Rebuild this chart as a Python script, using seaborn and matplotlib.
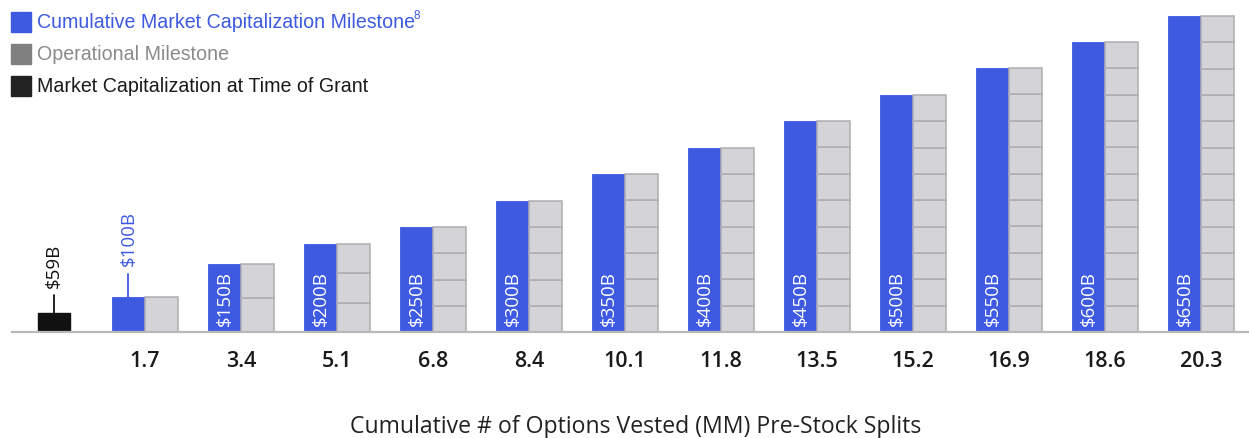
import matplotlib
matplotlib.use("Agg")
import matplotlib.pyplot as plt
from matplotlib.patches import Rectangle
import seaborn as sns
import pandas as pd
import numpy as np

# ---- data ----
milestone_labels = ["$100B", "$150B", "$200B", "$250B", "$300B", "$350B",
                    "$400B", "$450B", "$500B", "$550B", "$600B", "$650B"]
# displayed (schematic) bar heights as drawn in the reference
bar_heights = [35, 68, 88, 105, 131, 158, 184, 211, 237, 264, 290, 316]
operational_segments = [1, 2, 3, 4, 5, 6, 7, 8, 9, 10, 11, 12]
options_vested = ["1.7", "3.4", "5.1", "6.8", "8.4", "10.1",
                  "11.8", "13.5", "15.2", "16.9", "18.6", "20.3"]
grant_label = "$59B"
grant_height = 19

legend_labels = ["Cumulative Market Capitalization Milestone",
                 "Operational Milestone",
                 "Market Capitalization at Time of Grant"]
xlabel = "Cumulative # of Options Vested (MM) Pre-Stock Splits"

BLUE = "#3d5ae0"
GRAY_FILL = "#d4d3d8"
GRAY_EDGE = "#aeadb2"
BLACK = "#111111"

sns.set_theme(style="white")
plt.rcParams["font.family"] = ["Open Sans", "DejaVu Sans"]

W, H = 1249, 438
fig = plt.figure(figsize=(W / 100, H / 100), dpi=100)
base_px = 332
left_px = 12
ax = fig.add_axes([left_px / W, (H - base_px) / H, (W - left_px) / W, base_px / H])

BW = 0.344
x = np.arange(len(bar_heights))

df = pd.DataFrame({"x": x - BW / 2, "h": bar_heights})
sns.barplot(data=df, x="x", y="h", native_scale=True, width=BW,
            color=BLUE, saturation=1, edgecolor=BLUE, linewidth=0.6, ax=ax)

# operational milestone stacked segments
for i, (h, n) in enumerate(zip(bar_heights, operational_segments)):
    seg = h / n
    ax.bar([i + BW / 2] * n, [seg] * n, bottom=np.arange(n) * seg, width=BW,
           color=GRAY_FILL, edgecolor=GRAY_EDGE, linewidth=1.1, zorder=2)

# grant bar
gx = -0.948
ax.bar([gx], [grant_height], width=0.33, color=BLACK, edgecolor=BLACK, zorder=2)
ax.plot([gx, gx], [grant_height, 37], color=BLACK, lw=1.3)
ax.text(gx, 44, grant_label, rotation=90, ha="center", va="bottom",
        color=BLACK, fontsize=13.5)

# value labels
for i, (h, lab) in enumerate(zip(bar_heights, milestone_labels)):
    cx = i - BW / 2
    if i == 0:
        ax.plot([cx, cx], [h, 58], color=BLUE, lw=1.3)
        ax.text(cx, 66, lab, rotation=90, ha="center", va="bottom",
                color=BLUE, fontsize=13.5)
    else:
        ax.text(cx, 6, lab, rotation=90, ha="center", va="bottom",
                color="white", fontsize=13.5, zorder=3)

ax.set_xlim((left_px - 145) / 96, (W - 145) / 96)
ax.set_ylim(0, base_px)
ax.set_xticks(x)
ax.set_xticklabels(options_vested, fontsize=15.5, color="#1a1a1a", fontweight="semibold")
ax.tick_params(axis="x", length=0, pad=14)
ax.set_yticks([])
ax.set_ylabel("")
for s in ["top", "left", "right"]:
    ax.spines[s].set_visible(False)
ax.spines["bottom"].set_color("#b8b8b8")
ax.spines["bottom"].set_linewidth(1.6)
ax.set_xlabel(xlabel, fontsize=16.6, color="#222222")
ax.xaxis.set_label_coords((636 - left_px) / (W - left_px), -95 / base_px)
ax.xaxis.label.set_va("center")

# legend (manual, figure pixel coords)
leg_colors = [BLUE, "#808080", "#222222"]
text_colors = [BLUE, "#8a8a8a", "#1a1a1a"]
tops = [12, 44, 76]
for lab, c, tc, t in zip(legend_labels, leg_colors, text_colors, tops):
    fig.patches.append(Rectangle((11 / W, 1 - (t + 20) / H), 20 / W, 20 / H,
                                 transform=fig.transFigure, color=c, figure=fig))
    fig.text(37 / W, 1 - (t + 10) / H, lab, ha="left", va="center",
             color=tc, fontsize=14.1, family=["Liberation Sans", "DejaVu Sans"])
# superscript 8
fig.text(414 / W, 1 - 16 / H, "8", ha="left", va="center", color=BLUE,
         fontsize=8.5, family=["Liberation Sans", "DejaVu Sans"])

fig.savefig("out.png", dpi=100)
